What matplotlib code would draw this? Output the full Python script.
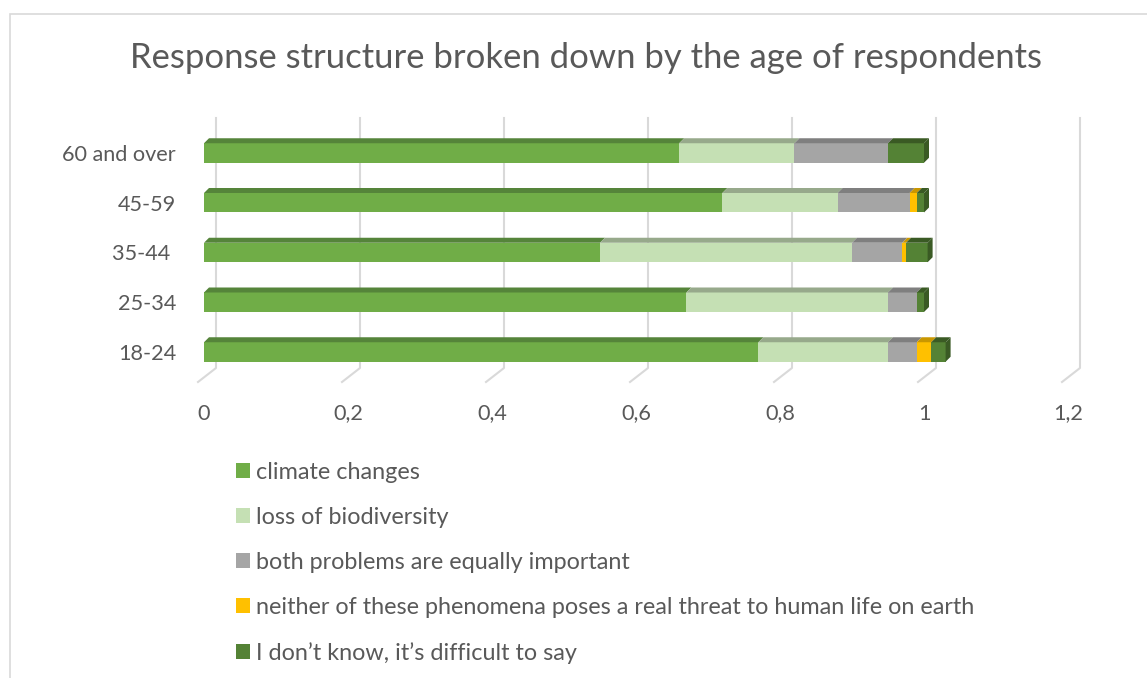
import matplotlib.pyplot as plt
from matplotlib.patches import Polygon, Rectangle

plt.rcParams['font.family'] = ['Lato', 'DejaVu Sans']

# Age groups (bottom to top) and the share of each answer
categories = ['18-24', '25-34', '35-44 ', '45-59', '60 and over']
climate = [0.77, 0.67, 0.55, 0.72, 0.66]
biodiversity = [0.18, 0.28, 0.35, 0.16, 0.16]
both = [0.04, 0.04, 0.07, 0.10, 0.13]
neither = [0.02, 0.0, 0.005, 0.01, 0.0]
dont_know = [0.02, 0.01, 0.03, 0.01, 0.05]
ticks = [0, 0.2, 0.4, 0.6, 0.8, 1.0, 1.2]
tick_labels = ['0', '0,2', '0,4', '0,6', '0,8', '1', '1,2']

series = [
    ('climate changes', climate, '#70AD47', '#55843A'),
    ('loss of biodiversity', biodiversity, '#C5E0B4', '#97A98B'),
    ('both problems are equally important', both, '#A5A5A5', '#7F7F7F'),
    ('neither of these phenomena poses a real threat to human life on earth', neither, '#FFC000', '#C99700'),
    ('I don\u2019t know, it\u2019s difficult to say', dont_know, '#548235', '#3A5A24'),
]

W, H = 1147, 678
fig = plt.figure(figsize=(W / 100, H / 100), dpi=100)

# layout in pixels
px_unit = 720.0    # pixels per 1.0 on the value axis
px_cat = 49.75     # pixels between categories
x0_px = 204        # value 0 at the bar fronts
y0_px = 352        # centre of the first category
left_px, right_px = 186, 1110
top_px, bot_px = 118, 382

ax = fig.add_axes([left_px / W, 1 - bot_px / H, (right_px - left_px) / W, (bot_px - top_px) / H])
ax.set_xlim((left_px - x0_px) / px_unit, (right_px - x0_px) / px_unit)
ax.set_ylim((y0_px - bot_px) / px_cat, (y0_px - top_px) / px_cat)
for s in ax.spines.values():
    s.set_visible(False)

dx = 5 / px_unit   # depth of the bars
dy = 5 / px_cat
bar_h = 19.5 / px_cat

# back-wall gridlines and floor diagonals
back_dx = 12 / px_unit
floor_back = (y0_px - 368) / px_cat
floor_front = (y0_px - 382) / px_cat
wall_top = (y0_px - top_px) / px_cat
for t in ticks:
    ax.plot([t + back_dx, t + back_dx, t - 6 / px_unit], [wall_top, floor_back, floor_front],
            color='#D9D9D9', lw=1.5, clip_on=False, zorder=0)

ypos = list(range(len(categories)))
left = [0.0] * len(categories)
handles = []
for name, vals, col, top_col in series:
    bars = ax.barh(ypos, vals, left=left, height=bar_h, color=col, label=name, zorder=2)
    handles.append(bars)
    for i, (l, v) in enumerate(zip(left, vals)):
        if v <= 0:
            continue
        yt = i + bar_h / 2
        ax.add_patch(Polygon([(l, yt), (l + v, yt), (l + v + dx, yt + dy), (l + dx, yt + dy)],
                             closed=True, facecolor=top_col, edgecolor='none', zorder=3))
    left = [l + v for l, v in zip(left, vals)]

# side face at the end of each bar
for i, end in enumerate(left):
    yt, yb = i + bar_h / 2, i - bar_h / 2
    ax.add_patch(Polygon([(end, yb), (end, yt), (end + dx, yt + dy), (end + dx, yb + dy)],
                         closed=True, facecolor=series[-1][3], edgecolor='none', zorder=3))

ax.set_yticks(ypos)
ax.set_yticklabels(categories, fontsize=15.6, color='#595959')
ax.set_xticks(ticks)
ax.set_xticklabels(tick_labels, fontsize=15.6, color='#595959')
ax.tick_params(axis='both', length=0)
ax.tick_params(axis='y', pad=7.2)
ax.tick_params(axis='x', pad=15.5)

fig.text(586 / W, 1 - 58 / H, 'Response structure broken down by the age of respondents',
         ha='center', va='center', fontsize=24.9, color='#595959')

fig.legend(handles=handles, loc='upper left', bbox_to_anchor=(236 / W, 1 - 462 / H),
           frameon=False, fontsize=16.8, labelcolor='#595959', handlelength=0.6,
           handleheight=0.6, handletextpad=0.27, labelspacing=1.03, borderaxespad=0,
           borderpad=0)

# chart border
fig.add_artist(Rectangle((10 / W, -0.1), 1.2, 1.1 - 13.5 / H, transform=fig.transFigure,
                         fill=False, edgecolor='#D9D9D9', lw=1.2))

fig.savefig('out.png', dpi=100)
